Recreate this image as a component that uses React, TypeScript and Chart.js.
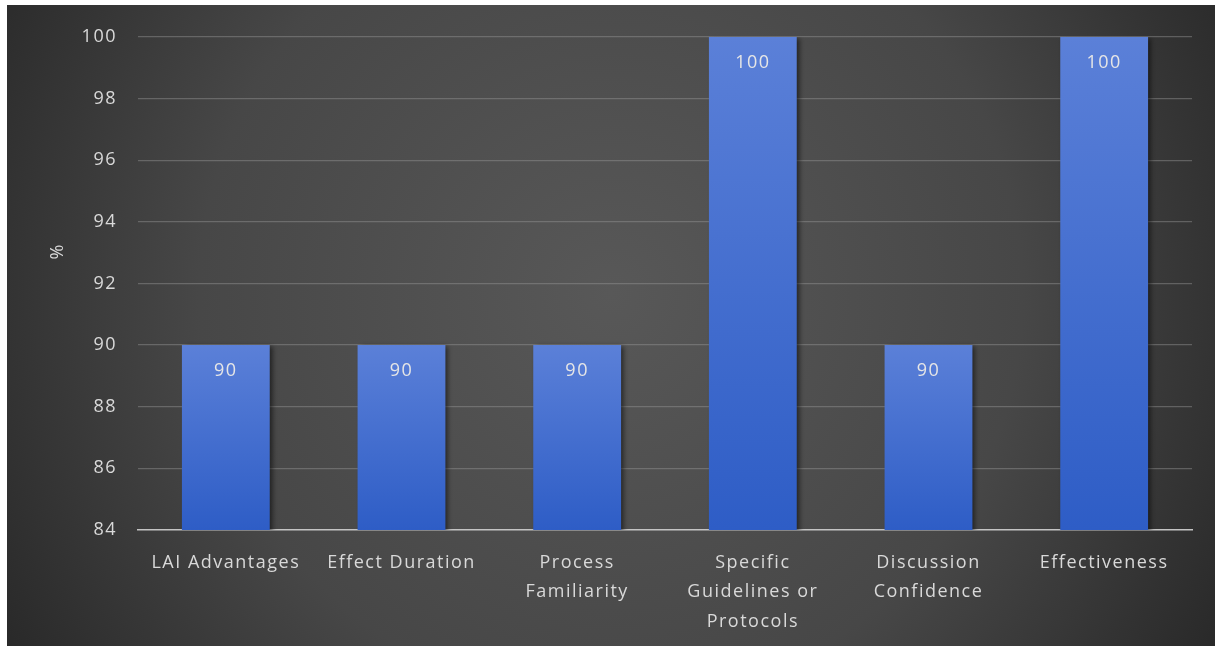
import React, { useEffect, useRef } from "react";
import { Chart, registerables } from "chart.js";

Chart.register(...registerables);

const categories: (string | string[])[] = [
  "LAI Advantages",
  "Effect Duration",
  ["Process", "Familiarity"],
  ["Specific", "Guidelines or", "Protocols"],
  ["Discussion", "Confidence"],
  "Effectiveness",
];
const percentValues = [90, 90, 90, 100, 90, 100];
const yTickValues = [84, 86, 88, 90, 92, 94, 96, 98, 100];
const yAxisTitle = "%";

const FONT = "'Open Sans', 'Noto Sans', sans-serif";
const TEXT_COLOR = "#d9d9d9";

// Dark radial backdrop behind the whole chart
const backdropPlugin = {
  id: "backdrop",
  beforeDraw(chart: any) {
    const { ctx, width, height } = chart;
    ctx.save();
    const g = ctx.createRadialGradient(
      width * 0.5, height * 0.45, 0,
      width * 0.5, height * 0.45, width * 0.62
    );
    g.addColorStop(0, "#585858");
    g.addColorStop(0.55, "#474747");
    g.addColorStop(1, "#242424");
    ctx.fillStyle = g;
    ctx.fillRect(0, 0, width, height);
    ctx.restore();
    ctx.letterSpacing = "1.5px";
  },
};

// Soft shadow on the bars, value labels inside the bar tops, rotated y title
const barDecorPlugin = {
  id: "barDecor",
  beforeDatasetsDraw(chart: any) {
    const { ctx } = chart;
    ctx.save();
    ctx.shadowColor = "rgba(0,0,0,0.55)";
    ctx.shadowBlur = 5;
    ctx.shadowOffsetX = 3;
    ctx.shadowOffsetY = 1;
  },
  afterDatasetsDraw(chart: any) {
    const { ctx, chartArea } = chart;
    ctx.restore();
    ctx.save();
    ctx.letterSpacing = "1.5px";
    ctx.font = `18px ${FONT}`;
    ctx.fillStyle = "#e6e6e6";
    ctx.textAlign = "center";
    ctx.textBaseline = "middle";
    const meta = chart.getDatasetMeta(0);
    meta.data.forEach((bar: any, i: number) => {
      ctx.fillText(String(percentValues[i]), bar.x, bar.y + 26);
    });
    ctx.translate(51, (chartArea.top + chartArea.bottom) / 2 - 32);
    ctx.rotate(-Math.PI / 2);
    ctx.fillStyle = TEXT_COLOR;
    ctx.fillText(yAxisTitle, 0, 0);
    ctx.restore();
  },
};

function barGradient(context: any) {
  const chart = context.chart;
  const yScale = chart.scales?.y;
  if (!chart.chartArea || !yScale) return "#3f6ccf";
  const v = percentValues[context.dataIndex];
  const top = yScale.getPixelForValue(v);
  const bottom = chart.chartArea.bottom;
  const g = chart.ctx.createLinearGradient(0, top, 0, bottom);
  g.addColorStop(0, "#5b80d8");
  g.addColorStop(1, "#2e5dc6");
  return g;
}

export default function App() {
  const canvasRef = useRef<HTMLCanvasElement | null>(null);

  useEffect(() => {
    if (!canvasRef.current) return;
    const chart = new Chart(canvasRef.current, {
      type: "bar",
      data: {
        labels: categories,
        datasets: [
          {
            data: percentValues,
            backgroundColor: barGradient,
            borderWidth: 0,
            categoryPercentage: 0.5,
            barPercentage: 1,
          },
        ],
      },
      options: {
        animation: false,
        responsive: false,
        maintainAspectRatio: false,
        layout: { padding: { top: 29, right: 23, left: 0, bottom: 0 } },
        plugins: {
          legend: { display: false },
          tooltip: { enabled: false },
        },
        scales: {
          x: {
            grid: { display: false, drawTicks: false },
            border: { display: true, color: "#c4c4c4", width: 1.5 },
            ticks: {
              color: TEXT_COLOR,
              font: { family: FONT, size: 18, lineHeight: 1.64 },
              padding: 18,
              autoSkip: false,
              maxRotation: 0,
              minRotation: 0,
            },
            afterFit(scale: any) {
              scale.height = 116;
            },
          },
          y: {
            min: 84,
            max: 100,
            afterBuildTicks(scale: any) {
              scale.ticks = yTickValues.map((v) => ({ value: v }));
            },
            grid: {
              drawTicks: false,
              color: (c: any) =>
                c.tick && c.tick.value === 84 ? "rgba(0,0,0,0)" : "rgba(150,150,150,0.45)",
              lineWidth: 1.2,
            },
            border: { display: false },
            ticks: {
              color: TEXT_COLOR,
              font: { family: FONT, size: 18 },
              padding: 21,
            },
            afterFit(scale: any) {
              scale.width = 131;
            },
          },
        },
      },
      plugins: [backdropPlugin, barDecorPlugin],
    });
    return () => chart.destroy();
  }, []);

  return (
    <div
      style={{
        position: "fixed",
        left: 7,
        top: 5,
        right: 0,
        bottom: 0,
        overflow: "hidden",
        background: "#262626",
      }}
    >
      <canvas ref={canvasRef} width={1208} height={641} style={{ display: "block" }} />
    </div>
  );
}
